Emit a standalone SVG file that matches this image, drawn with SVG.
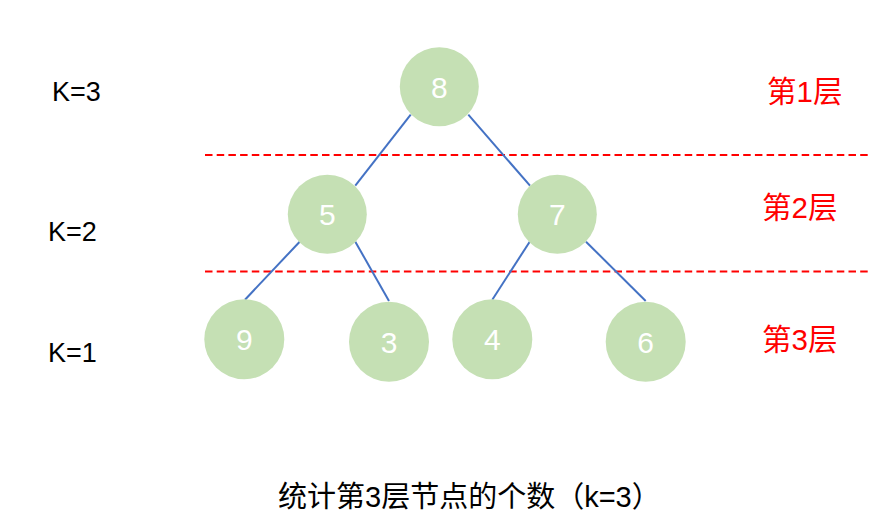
<svg xmlns="http://www.w3.org/2000/svg" width="894" height="532" viewBox="0 0 894 532">
<style>
.node circle{fill:#C5E0B4;}
.node text{fill:#ffffff;font-family:"Liberation Sans","Noto Sans CJK SC",sans-serif;font-size:30px;text-anchor:middle;}
.edge{stroke:#4472C4;stroke-width:2;fill:none;}
.dash{stroke:#FF0000;stroke-width:2;stroke-dasharray:7.5 4.2;fill:none;}
.k{fill:#000;font-family:"Liberation Sans","Noto Sans CJK SC",sans-serif;font-size:27px;}
.lvl{fill:#FF0000;font-family:"Liberation Sans","Noto Sans CJK SC",sans-serif;font-size:29.5px;}
.cap{fill:#000;font-family:"Liberation Sans","Noto Sans CJK SC",sans-serif;font-size:29px;}
</style>
<rect width="894" height="532" fill="#ffffff"/>
<g id="dividers">
<line class="dash" x1="205" y1="155" x2="870" y2="155"/>
<line class="dash" x1="205" y1="271.5" x2="870" y2="271.5"/>
</g>
<g id="connectors">
<line class="edge" x1="410.7" y1="114.7" x2="355.3" y2="185.7"/>
<line class="edge" x1="468.3" y1="114.7" x2="530" y2="185.7"/>
<line class="edge" x1="299.7" y1="241.7" x2="245" y2="299.7"/>
<line class="edge" x1="355.3" y1="241.7" x2="389" y2="301"/>
<line class="edge" x1="529.7" y1="241.7" x2="492.3" y2="299.7"/>
<line class="edge" x1="586" y1="241.7" x2="645.7" y2="301"/>
</g>
<g id="node-8" class="node"><circle cx="439.3" cy="86.7" r="39.5"/><text x="439.3" y="97.5">8</text></g>
<g id="node-5" class="node"><circle cx="327.3" cy="214.3" r="39.5"/><text x="327.3" y="225.1">5</text></g>
<g id="node-7" class="node"><circle cx="557.3" cy="214.3" r="39.5"/><text x="557.3" y="225.1">7</text></g>
<g id="node-9" class="node"><circle cx="244.3" cy="339.3" r="40"/><text x="244.3" y="350.1">9</text></g>
<g id="node-3" class="node"><circle cx="389" cy="341.7" r="40"/><text x="389" y="352.5">3</text></g>
<g id="node-4" class="node"><circle cx="492.3" cy="339.3" r="40"/><text x="492.3" y="350.1">4</text></g>
<g id="node-6" class="node"><circle cx="645.7" cy="341.7" r="40"/><text x="645.7" y="352.5">6</text></g>
<g id="k-labels">
<text class="k" x="52" y="101">K=3</text>
<text class="k" x="48" y="241">K=2</text>
<text class="k" x="48" y="361.5">K=1</text>
</g>
<g id="level-labels">
<text class="lvl" x="767" y="102">第1层</text>
<text class="lvl" x="762" y="218">第2层</text>
<text class="lvl" x="762" y="350">第3层</text>
</g>
<g id="caption">
<text class="cap" x="278" y="507">统计第3层节点的个数（k=3）</text>
</g>
</svg>
